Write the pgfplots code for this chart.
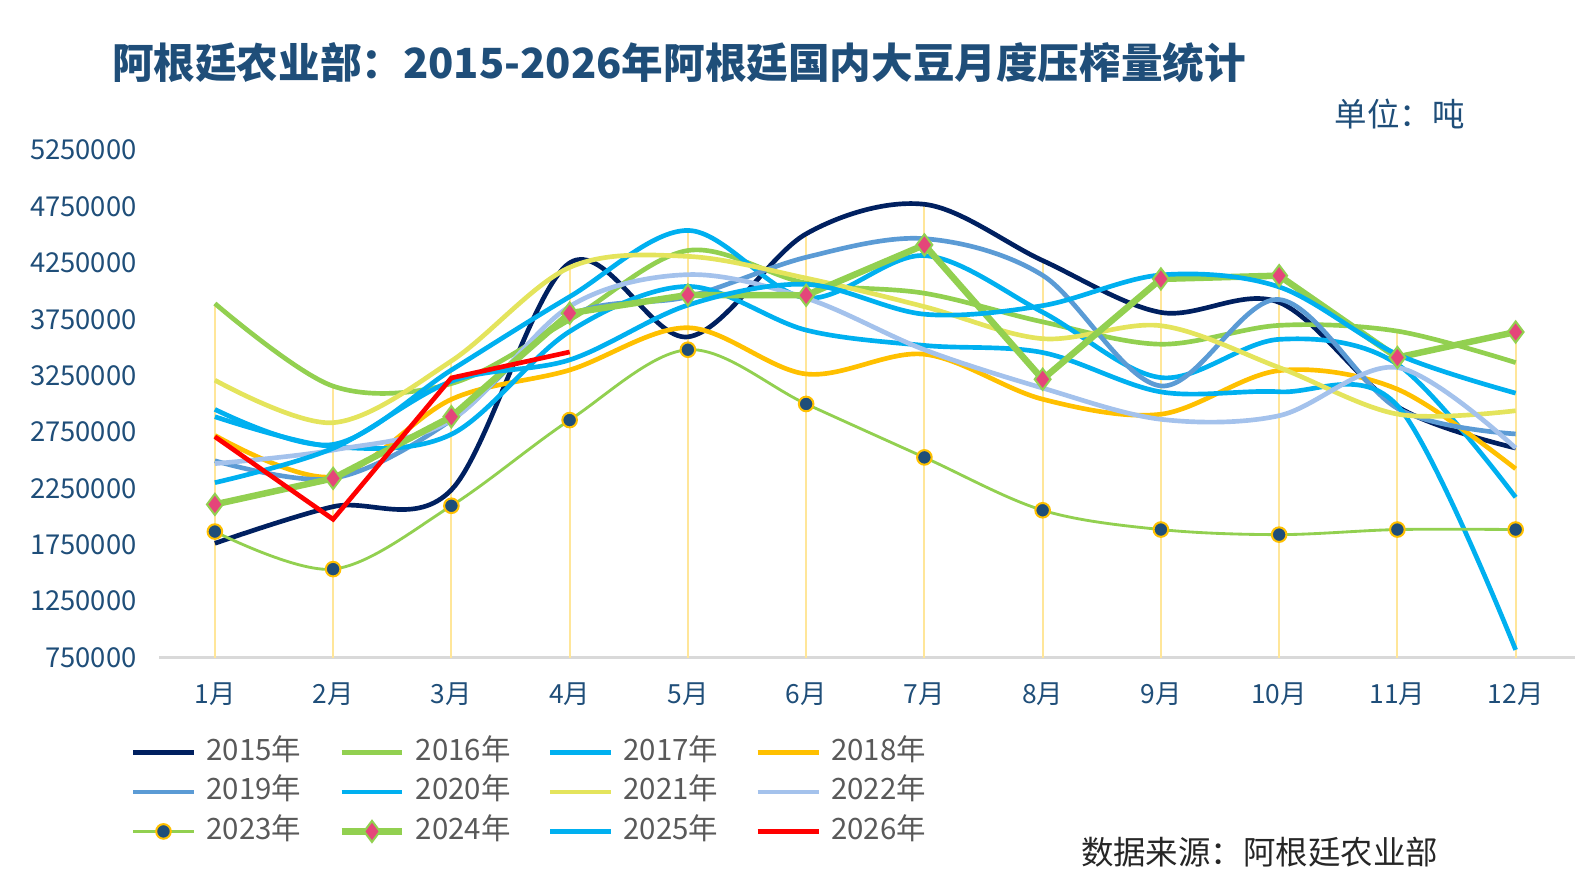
\documentclass[border=0pt]{standalone}
\usepackage{pgfplots}
\pgfplotsset{compat=1.18}
\usepackage{fontspec}
\setmainfont{Noto Sans CJK SC}
\definecolor{cTitle}{HTML}{1F4E79}
\definecolor{cNavy}{HTML}{002060}
\definecolor{cGreen}{HTML}{92D050}
\definecolor{cBlue}{HTML}{00B0F0}
\definecolor{cOrange}{HTML}{FFC000}
\definecolor{cSteel}{HTML}{5B9BD5}
\definecolor{cYellow}{HTML}{E4E45C}
\definecolor{cPale}{HTML}{A4C2EC}
\definecolor{cPink}{HTML}{E5457A}
\definecolor{cDrop}{HTML}{FFE699}
\definecolor{cAxis}{HTML}{D9D9D9}
\definecolor{cLeg}{HTML}{595959}
\begin{document}
\begin{tikzpicture}
\node[anchor=west, inner sep=0pt, text=cTitle, font=\fontsize{20.5}{20.5}\selectfont\bfseries] at (55pt,406pt) {阿根廷农业部：2015-2026年阿根廷国内大豆月度压榨量统计};
\node[anchor=west, inner sep=0pt, text=cTitle, font=\fontsize{16}{16}\selectfont] at (657.5pt,381pt) {单位：吨};
\node[anchor=west, inner sep=0pt, text=black!85, font=\fontsize{16}{16}\selectfont] at (532.5pt,17pt) {数据来源：阿根廷农业部};
\begin{axis}[
  at={(78.5pt,113pt)}, anchor=south west,
  scale only axis, width=697.5pt, height=250pt,
  xmin=-0.47, xmax=11.5, ymin=750000, ymax=5250000,
  scaled y ticks=false,
  axis lines*=left,
  x axis line style={draw=cAxis, line width=1pt, -},
  y axis line style={draw=none},
  xtick={0,...,11},
  xticklabels={1月,2月,3月,4月,5月,6月,7月,8月,9月,10月,11月,12月},
  ytick={750000,1250000,1750000,2250000,2750000,3250000,3750000,4250000,4750000,5250000},
  yticklabels={750000,1250000,1750000,2250000,2750000,3250000,3750000,4250000,4750000,5250000},
  major tick length=0pt, tick style={draw=none},
  xticklabel style={anchor=center, yshift=-18pt, inner sep=0pt, text=cTitle, font=\fontsize{13}{13}\selectfont},
  yticklabel style={anchor=east, xshift=-11pt, inner sep=0pt, text=cTitle, font=\fontsize{13.5}{13.5}\selectfont},
  clip=false,
  smooth, tension=0.55,
  legend columns=4,
  legend cell align=left,
  legend style={at={(-0.0205,-0.158)}, anchor=north west, draw=none, fill=none,
    inner sep=0pt, row sep=5.5pt,
    nodes={inner xsep=5pt, inner ysep=0pt, text width=60pt, align=left, text height=11pt, text depth=3pt, text=cLeg, font=\fontsize{14.5}{14.5}\selectfont}},
  legend image code/.code={\draw[#1, mark repeat=2, mark phase=2] plot[sharp plot] coordinates {(0pt,0pt) (15pt,0pt) (30pt,0pt)};},
]
% drop lines (max value of each month down to the axis)
\addplot[ycomb, color=cDrop, line width=1pt, forget plot] coordinates {
 (0,3890000)(1,3157000)(2,3380000)(3,4250000)(4,4538000)(5,4508000)(6,4770000)(7,4271000)(8,4143000)(9,4137000)(10,3645000)(11,3637000)};
% 2015
\addplot[color=cNavy, line width=2.3pt] coordinates {
 (0,1763000)(1,2088000)(2,2237000)(3,4250000)(4,3594000)(5,4508000)(6,4770000)(7,4271000)(8,3811000)(9,3900000)(10,2975000)(11,2608000)};
\addlegendentry{2015年}
% 2016
\addplot[color=cGreen, line width=2.3pt] coordinates {
 (0,3890000)(1,3157000)(2,3180000)(3,3745000)(4,4360000)(5,4071000)(6,3981000)(7,3727000)(8,3529000)(9,3696000)(10,3645000)(11,3366000)};
\addlegendentry{2016年}
% 2017
\addplot[color=cBlue, line width=2.3pt] coordinates {
 (0,2951000)(1,2640000)(2,3300000)(3,3950000)(4,4538000)(5,3939000)(6,4315000)(7,3813000)(8,3233000)(9,3572000)(10,3351000)(11,2171000)};
\addlegendentry{2017年}
% 2018
\addplot[color=cOrange, line width=2.3pt] coordinates {
 (0,2720000)(1,2354000)(2,3040000)(3,3300000)(4,3675000)(5,3265000)(6,3440000)(7,3041000)(8,2908000)(9,3295000)(10,3130000)(11,2424000)};
\addlegendentry{2018年}
% 2019
\addplot[color=cSteel, line width=2.3pt] coordinates {
 (0,2495000)(1,2339000)(2,2857000)(3,3780000)(4,3950000)(5,4300000)(6,4465000)(7,4140000)(8,3159000)(9,3925000)(10,2960000)(11,2733000)};
\addlegendentry{2019年}
% 2020
\addplot[color=cBlue, line width=2.3pt] coordinates {
 (0,2886000)(1,2620000)(2,2730000)(3,3642000)(4,4041000)(5,3654000)(6,3518000)(7,3455000)(8,3106000)(9,3107000)(10,2984000)(11,818000)};
\addlegendentry{2020年}
% 2021
\addplot[color=cYellow, line width=2.3pt] coordinates {
 (0,3210000)(1,2833000)(2,3380000)(3,4210000)(4,4308000)(5,4115000)(6,3862000)(7,3578000)(8,3693000)(9,3322000)(10,2909000)(11,2939000)};
\addlegendentry{2021年}
% 2022
\addplot[color=cPale, line width=2.3pt] coordinates {
 (0,2470000)(1,2590000)(2,2857000)(3,3864000)(4,4146000)(5,3937000)(6,3480000)(7,3140000)(8,2863000)(9,2895000)(10,3322000)(11,2608000)};
\addlegendentry{2022年}
% 2023
\addplot[color=cGreen, line width=1.4pt, mark=*, mark size=3.6pt,
  mark options={fill=cTitle, draw=cOrange, line width=1pt}] coordinates {
 (0,1867000)(1,1534000)(2,2096000)(3,2856000)(4,3480000)(5,2999000)(6,2525000)(7,2056000)(8,1885000)(9,1840000)(10,1885000)(11,1885000)};
\addlegendentry{2023年}
% 2024
\addplot[sharp plot, color=cGreen, line width=3.2pt, mark=diamond*, mark size=5.2pt,
  mark options={fill=cPink, draw=cGreen, line width=1pt}] coordinates {
 (0,2108000)(1,2339000)(2,2886000)(3,3804000)(4,3966000)(5,3963000)(6,4410000)(7,3218000)(8,4108000)(9,4137000)(10,3411000)(11,3637000)};
\addlegendentry{2024年}
% 2025
\addplot[color=cBlue, line width=2.3pt] coordinates {
 (0,2301000)(1,2606000)(2,3200000)(3,3390000)(4,3876000)(5,4060000)(6,3795000)(7,3871000)(8,4143000)(9,4037000)(10,3439000)(11,3095000)};
\addlegendentry{2025年}
% 2026
\addplot[sharp plot, color=red, line width=2.3pt] coordinates {
 (0,2709000)(1,1976000)(2,3230000)(3,3460000)};
\addlegendentry{2026年}
\end{axis}
\pgfresetboundingbox
\path[use as bounding box] (0,0) rectangle (784pt,437pt);
\end{tikzpicture}
\end{document}
